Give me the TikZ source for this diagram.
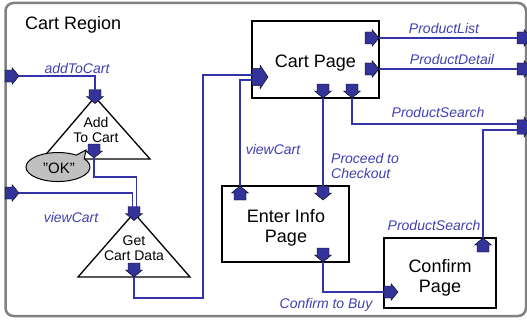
\documentclass[tikz,border=0pt]{standalone}
\usepackage{fontspec}
\setmainfont{Liberation Sans}
\usetikzlibrary{calc}

\definecolor{portblue}{RGB}{51,51,153}
\definecolor{flowblue}{RGB}{51,51,170}
\definecolor{labelblue}{RGB}{64,64,176}
\definecolor{calloutgray}{RGB}{192,192,192}
\definecolor{regiongray}{RGB}{128,128,128}

\tikzset{
  % block-arrow port, pointing along +x before rotation
  portpic/.pic={
    \filldraw[fill=portblue, draw=black, line width=0.4pt]
      (-7,-6) -- (0,-6) -- (0,-8.5) -- (7,0) -- (0,8.5) -- (0,6) -- (-7,6) -- cycle;
    \coordinate (-tail) at (-7,0);
    \coordinate (-tip) at (7,0);
  },
  pdown/.style={rotate=-90},
  pup/.style={rotate=90},
  flow/.style={draw=flowblue, line width=1.3pt},
  lbl/.style={text=labelblue, font=\fontsize{14}{15}\selectfont\itshape, inner sep=0pt},
  pagebox/.style={draw=black, line width=1.5pt, fill=white, inner sep=0pt},
  pagetext/.style={font=\fontsize{18}{20}\selectfont, align=center, inner sep=0pt},
  tritext/.style={font=\fontsize{14}{15}\selectfont, align=center, inner sep=0pt},
  activity/.style={draw=black, line width=1.3pt, fill=white},
}

\begin{document}
\begin{tikzpicture}[x=1pt, y=-1pt]
\useasboundingbox (0,0) rectangle (527,321);
\clip (0,0) rectangle (527,321);

% region frame and title
\draw[regiongray, line width=2.5pt, rounded corners=8pt] (5.5,3) rectangle (526,316);
\node[font=\fontsize{18}{20}\selectfont, anchor=base west, inner sep=0pt] (title) at (25,30) {Cart Region};

% activities
\draw[activity] (95,97) -- (150,159) -- (42,159) -- cycle;
\node[tritext] (addtxt) at (96,130.4) {Add\\To Cart};
\draw[activity] (134,213) -- (190,277) -- (78,277) -- cycle;
\node[tritext] (gettxt) at (134,247.8) {Get\\Cart Data};

% "OK" callout
\filldraw[draw=black, line width=1pt, fill=calloutgray]
  (84.2,158.7) arc[start angle=-35, end angle=305, x radius=32, y radius=14.5]
  -- (86,150) -- cycle;
\node[font=\fontsize{15}{16}\selectfont, inner sep=0pt] (oktxt) at (59,168) {"OK"};

% pages
\node[pagebox, minimum width=127pt, minimum height=77pt] (cart) at (315.5,59.5) {};
\node[pagetext] (carttxt) at (315.5,63.3) {Cart Page};
\node[pagebox, minimum width=127pt, minimum height=76pt] (enter) at (285.5,224) {};
\node[pagetext] (entertxt) at (286,227.4) {Enter Info\\Page};
\node[pagebox, minimum width=112pt, minimum height=70pt] (confirm) at (440,273) {};
\node[pagetext] (confirmtxt) at (440,277.4) {Confirm\\Page};

% ports
\pic (pa) at (12,76) {portpic};
\pic (pv) at (12,193) {portpic};
\pic[pdown] (pat) at (95,96.5) {portpic};
\pic[pdown] (pab) at (94,151) {portpic};
\pic[pdown] (pgt) at (134,213.5) {portpic};
\pic[pdown] (pgb) at (134,270) {portpic};
\pic[xscale=1.15, yscale=1.4] (pcl) at (260,77) {portpic};
\pic (pr1) at (372,38) {portpic};
\pic (pr2) at (372,69) {portpic};
\pic[pdown] (pb1) at (323,91) {portpic};
\pic[pdown] (pb2) at (352,91) {portpic};
\pic (pe1) at (524,38) {portpic};
\pic (pe2) at (524,69) {portpic};
\pic[yscale=1.2] (pe3) at (524,127) {portpic};
\pic[pup] (peu) at (240,193) {portpic};
\pic[pdown] (ped) at (323,193) {portpic};
\pic[pdown] (peb) at (323,255) {portpic};
\pic[pup] (pct) at (483,245) {portpic};
\pic (pcf) at (391,292) {portpic};

% flows
\draw[flow] (pa-tip) -| (pat-tail);
\draw[flow] (pv-tip) -| ([xshift=-1.5pt]pgt-tail);
\draw[flow] (pab-tip) -- ++(0,19) -| ([xshift=2.5pt]pgt-tail);
\draw[flow] (pgb-tip) -- ++(0,21) -| ($(pcl-tail)+(-49,-2)$) -- ($(pcl-tail)+(0,-2)$);
\draw[flow] (peu-tip) |- ($(pcl-tail)+(0,3)$);
\draw[flow] (pr1-tip) -- (pe1-tail);
\draw[flow] (pr2-tip) -- (pe2-tail);
\draw[flow] (pb1-tip) -- (ped-tail);
\draw[flow] (pb2-tip) |- ($(pe3-tail)+(0,-3)$);
\draw[flow] (pct-tip) |- ($(pe3-tail)+(0,3)$);
\draw[flow] (peb-tip) |- (pcf-tail);

% flow labels
\node[lbl] (laddcart) at (77,68.5) {addToCart};
\node[lbl] (lviewleft) at (71,217) {viewCart};
\node[lbl] (lview) at (273,149) {viewCart};
\node[lbl, align=left, anchor=west] (lproceed) at (331,166) {Proceed to\\Checkout};
\node[lbl] (llist) at (444,28) {ProductList};
\node[lbl] (ldetail) at (452,60) {ProductDetail};
\node[lbl] (lsearch) at (438,112) {ProductSearch};
\node[lbl] (lsearchb) at (434,225) {ProductSearch};
\node[lbl] (lbuy) at (326,304.4) {Confirm to Buy};
\end{tikzpicture}
\end{document}
